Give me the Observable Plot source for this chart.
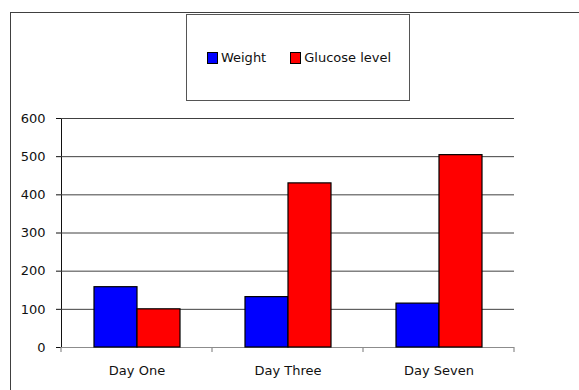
<!DOCTYPE html>
<html>
<head>
<meta charset="utf-8">
<script src="https://cdn.jsdelivr.net/npm/d3@7"></script>
<script src="https://cdn.jsdelivr.net/npm/@observablehq/plot@0.6"></script>
<style>
  html, body { margin: 0; padding: 0; background: #fff; }
  #wrap { position: relative; width: 579px; height: 390px; overflow: hidden; font-family: "DejaVu Sans", sans-serif; }
  #frame { position: absolute; left: 10px; top: 12px; width: 600px; height: 400px; border-top: 1px solid #404040; border-left: 1px solid #404040; box-sizing: border-box; }
  #chart { position: absolute; left: 0; top: 0; }
  #legend { position: absolute; left: 186px; top: 14px; width: 224px; height: 87px; box-sizing: border-box; border: 1px solid #555; background: #fff;
            display: flex; align-items: center; justify-content: center; gap: 24px; font-size: 13px; color: #111; padding-left: 2px; }
  .item { display: flex; align-items: center; gap: 3px; }
  .swatch { width: 9px; height: 10px; border: 1px solid #000; }
</style>
</head>
<body>
<div id="wrap">
  <div id="frame"></div>
  <div id="chart"></div>
  <div id="legend"></div>
</div>
<script>
// Measurements per day
const days = ["Day One", "Day Three", "Day Seven"];
const series = ["Weight", "Glucose level"];
const weight = [158, 132, 115];
const glucose = [100, 430, 504];
const seriesColors = ["#0000ff", "#ff0000"];
const yTicks = [0, 100, 200, 300, 400, 500, 600];

const rows = days.flatMap((day, i) => [
  {day, series: "Weight", value: weight[i]},
  {day, series: "Glucose level", value: glucose[i]}
]);

const chart = Plot.plot({
  width: 579,
  height: 390,
  marginTop: 118,
  marginBottom: 43,
  marginLeft: 60,
  marginRight: 64,
  style: {fontFamily: "DejaVu Sans, sans-serif", fontSize: "13px", background: "transparent", color: "#111"},
  facet: {data: rows, x: "day"},
  fx: {domain: days, padding: 0, label: null, axis: "bottom", tickSize: 0, tickPadding: 18},
  x: {domain: series, paddingInner: 0, paddingOuter: 0.72, axis: null},
  y: {domain: [0, 600], ticks: yTicks, tickSize: 5, tickPadding: 11, label: null, line: true},
  color: {domain: series, range: seriesColors},
  marks: [
    // gridlines repeated in every day panel
    Plot.ruleY(yTicks.filter(t => t > 0), {stroke: "#404040", strokeWidth: 1, facet: false}),
    Plot.ruleY([0], {stroke: "#8c8c8c", strokeWidth: 1.2, facet: false}),
    Plot.barY(rows, {x: "series", y: "value", fill: "series", stroke: "#000", strokeWidth: 1.2})
  ]
});
document.getElementById("chart").appendChild(chart);

// Category boundary ticks below the baseline
const fx = chart.scale("fx");
const yScale = chart.scale("y");
const y0 = yScale.apply(0);
const edges = days.map(d => fx.apply(d));
edges.push(edges[edges.length - 1] + fx.bandwidth);
d3.select(chart).append("g")
  .selectAll("line").data(edges).join("line")
  .attr("x1", d => d).attr("x2", d => d)
  .attr("y1", y0).attr("y2", y0 + 5)
  .attr("stroke", "#8c8c8c").attr("stroke-width", 1.2);

// Legend
const legend = d3.select("#legend");
series.forEach((s, i) => {
  const item = legend.append("div").attr("class", "item");
  item.append("div").attr("class", "swatch").style("background", seriesColors[i]);
  item.append("span").text(s);
});
</script>
</body>
</html>
